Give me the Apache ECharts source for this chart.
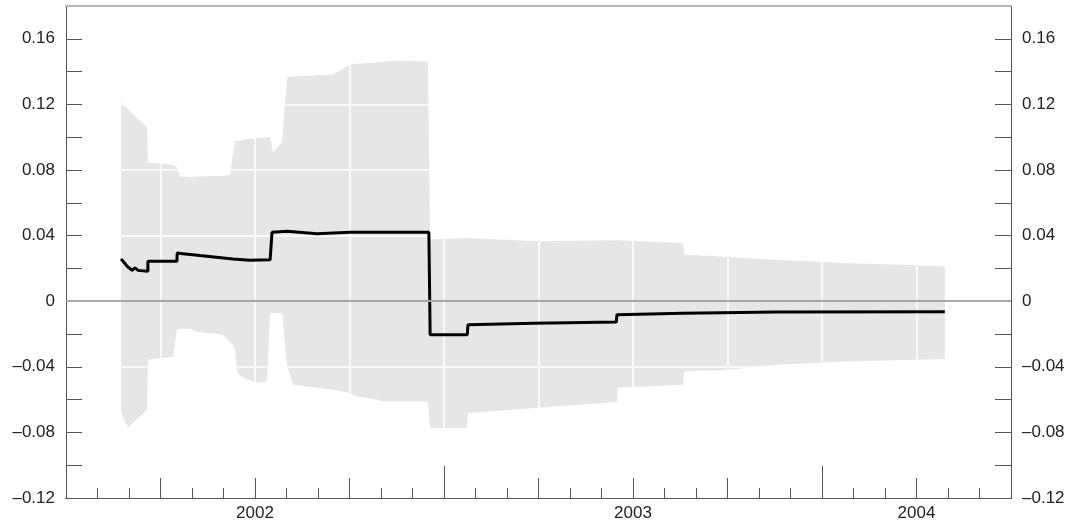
<!DOCTYPE html>
<html>
<head>
<meta charset="utf-8">
<script src="https://cdn.jsdelivr.net/npm/echarts@6/dist/echarts.min.js"></script>
<style>
html, body { margin: 0; padding: 0; background: #fff; }
#main { width: 1075px; height: 527px; }
</style>
</head>
<body>
<div id="main"></div>
<script>
// x values are months counted from 1 Jan 2002
const bandX = [1.75, 1.97, 2.13, 2.57, 2.60, 3.40, 3.52, 3.62, 3.94, 4.16, 4.98, 5.21, 5.30, 5.37, 5.43, 5.62, 6.06, 6.38, 6.48, 6.57, 6.86, 7.02, 7.21, 8.48, 9.02, 9.24, 9.87, 10.06, 10.38, 11.49, 11.56, 12.73, 12.76, 14.98, 17.49, 17.52, 19.59, 19.62, 21.02, 22.57, 24.70, 26.95, 27.90]
const bandUpper = [0.1212, 0.1170, 0.1139, 0.1060, 0.0846, 0.0830, 0.0815, 0.0760, 0.0758, 0.0760, 0.0765, 0.0770, 0.0900, 0.0974, 0.0978, 0.0985, 0.0995, 0.1000, 0.0999, 0.0907, 0.0968, 0.1365, 0.1370, 0.1383, 0.1444, 0.1448, 0.1456, 0.1460, 0.1468, 0.1462, 0.0376, 0.0386, 0.0386, 0.0365, 0.0371, 0.0371, 0.0355, 0.0284, 0.0270, 0.0253, 0.0233, 0.0219, 0.0213]
const bandLower = [-0.0681, -0.0773, -0.0740, -0.0663, -0.0357, -0.0339, -0.0174, -0.0170, -0.0168, -0.0186, -0.0205, -0.0250, -0.0266, -0.0300, -0.0437, -0.0467, -0.0498, -0.0491, -0.0072, -0.0072, -0.0075, -0.0400, -0.0510, -0.0540, -0.0560, -0.0581, -0.0600, -0.0612, -0.0612, -0.0612, -0.0773, -0.0773, -0.0681, -0.0650, -0.0614, -0.0528, -0.0510, -0.0429, -0.0418, -0.0388, -0.0368, -0.0357, -0.0353]

const lineX = [1.75, 1.94, 2.10, 2.19, 2.29, 2.60, 2.60, 3.52, 3.53, 3.71, 4.25, 5.30, 5.84, 6.48, 6.54, 7.02, 7.97, 9.02, 10.60, 11.52, 11.56, 12.74, 12.76, 14.86, 17.47, 17.49, 19.58, 19.60, 22.57, 27.90]
const lineY = [0.0258, 0.0213, 0.0188, 0.0203, 0.0188, 0.0182, 0.0243, 0.0243, 0.0294, 0.0290, 0.0278, 0.0258, 0.0249, 0.0252, 0.0420, 0.0426, 0.0412, 0.0421, 0.0420, 0.0420, -0.0204, -0.0204, -0.0144, -0.0135, -0.0127, -0.0082, -0.0073, -0.0068, -0.0066, -0.0064]

const yearTicks = [6, 18, 27]
const yearNames = ['2002', '2003', '2004']

const FONT = 'Liberation Sans, Arial, sans-serif'
const AXIS = '#555'
const BAND = '#e6e6e6'

function yLabel(v) {
	const k = Math.round(v * 100)
	if (k % 4 !== 0) return ''
	if (k === 0) return '0'
	return (k < 0 ? '\u2013' : '') + Math.abs(v).toFixed(2)
}

function xAxisBase(extra) {
	return Object.assign({
		type: 'value',
		position: 'bottom',
		min: 0,
		max: 30,
		axisLine: { show: true, onZero: false, lineStyle: { color: AXIS, width: 1 } },
		axisTick: { show: false },
		axisLabel: { show: false },
		splitLine: { show: false },
		z: 4
	}, extra)
}

function yAxisBase(extra) {
	return Object.assign({
		type: 'value',
		min: -0.12,
		max: 0.18,
		interval: 0.02,
		axisLine: { show: true, onZero: false, lineStyle: { color: AXIS, width: 1 } },
		axisTick: { show: true, inside: true, length: 16, lineStyle: { color: AXIS, width: 1 } },
		axisLabel: { formatter: yLabel, margin: 11, fontSize: 17, color: '#222', fontFamily: FONT },
		splitLine: { show: false },
		z: 4
	}, extra)
}

// band always straddles zero, so each edge is filled down/up to 0
function bandSeries(name, vals) {
	return {
		name: name,
		type: 'line',
		data: bandX.map((x, i) => [x, vals[i]]),
		symbol: 'none',
		lineStyle: { width: 0, opacity: 0 },
		areaStyle: { color: BAND, opacity: 1, origin: 0 },
		silent: true,
		z: 1
	}
}

let myChart = echarts.init(document.getElementById('main'))
let option = {
	animation: false,
	backgroundColor: '#fff',
	grid: { left: 66, right: 64, top: 6, bottom: 29, containLabel: false, outerBoundsMode: 'none' },
	xAxis: [
		xAxisBase({ interval: 1, axisTick: { show: true, inside: true, length: 10, lineStyle: { color: AXIS } } }),
		xAxisBase({
			interval: 3,
			axisTick: { show: true, inside: true, length: 20, lineStyle: { color: AXIS } },
			axisLabel: {
				show: true, margin: 7, fontSize: 17, color: '#222', fontFamily: FONT,
				showMinLabel: true, showMaxLabel: true,
				formatter: function(v) {
					const i = yearTicks.indexOf(Math.round(v))
					return i >= 0 ? yearNames[i] : ''
				}
			}
		}),
		xAxisBase({ interval: 12, axisTick: { show: true, inside: true, length: 32, lineStyle: { color: AXIS } } }),
		// white grid lines over the band
		xAxisBase({
			interval: 3,
			axisLine: { show: false, onZero: false },
			splitLine: { show: true, showMinLine: false, showMaxLine: false, lineStyle: { color: '#fff', width: 1.5 } },
			z: 2
		}),
		// grey top border
		xAxisBase({
			position: 'top',
			axisLine: { show: true, onZero: false, lineStyle: { color: '#b8b8b8', width: 2 } },
			z: 5
		})
	],
	yAxis: [
		yAxisBase({ position: 'left' }),
		yAxisBase({ position: 'right' }),
		{
			type: 'value',
			position: 'left',
			min: -0.12,
			max: 0.18,
			interval: 0.04,
			axisLine: { show: false, onZero: false },
			axisTick: { show: false },
			axisLabel: { show: false },
			splitLine: { show: true, showMinLine: false, showMaxLine: false, lineStyle: { color: '#fff', width: 1.5 } },
			z: 2
		}
	],
	series: [
		bandSeries('upper', bandUpper),
		bandSeries('lower', bandLower),
		{
			name: 'estimate',
			type: 'line',
			data: lineX.map((x, i) => [x, lineY[i]]),
			symbol: 'none',
			lineStyle: { color: '#000', width: 3 },
			silent: true,
			z: 3,
			markLine: {
				silent: true,
				symbol: 'none',
				label: { show: false },
				lineStyle: { color: '#a8a8a8', width: 2, type: 'solid' },
				data: [{ yAxis: 0 }]
			}
		}
	]
}

myChart.setOption(option)
</script>
</body>
</html>
